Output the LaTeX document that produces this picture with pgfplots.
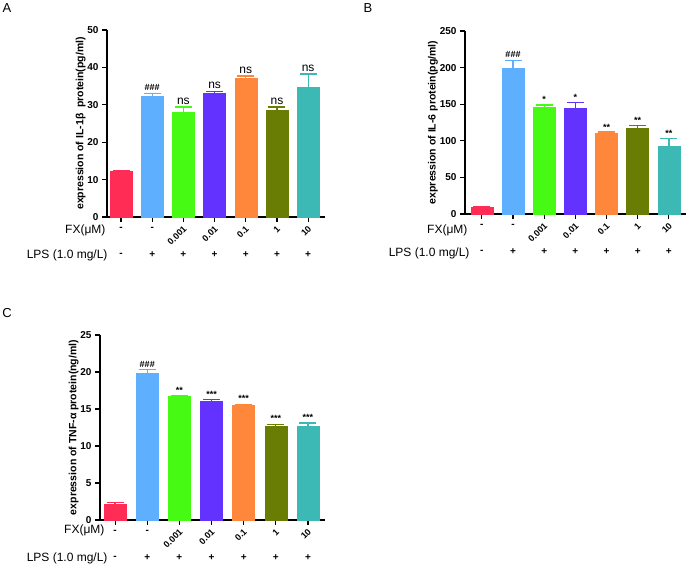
\documentclass[border=0pt]{standalone}
\usepackage{graphicx}
\usepackage{pgfplots}
\pgfplotsset{compat=1.18}
\usepackage{fontspec}
\setmainfont{Liberation Sans}
\definecolor{cR}{RGB}{255,45,85}
\definecolor{cB}{RGB}{95,175,255}
\definecolor{cG}{RGB}{70,250,20}
\definecolor{cP}{RGB}{100,50,255}
\definecolor{cO}{RGB}{255,135,60}
\definecolor{cL}{RGB}{105,125,5}
\definecolor{cT}{RGB}{60,185,180}
\newcommand{\fs}[1]{\fontsize{#1}{#1}\selectfont}
\pgfplotsset{
  panel/.style={scale only axis, anchor=south west,
    axis x line=bottom, axis y line=left,
    axis line style={-, line width=1.2pt},
    ymin=0, xtick={0,...,6}, xticklabels={},
    tick align=outside, major tick length=5pt,
    tick style={line width=1.2pt, black},
    ybar, bar width=22pt, clip=false,
    y tick label style={font=\bfseries\fs{10}},
    ylabel style={font=\bfseries\fs{10.5}}, ylabel shift=-5pt,
    /pgf/number format/assume math mode=true},
  barc/.style={fill=#1, draw=#1, bar shift=0pt,
    error bars/.cd, y dir=plus, y explicit,
    error bar style={color=#1, line width=1.3pt},
    error mark options={color=#1, line width=1.3pt, mark size=8.5pt, rotate=90}},
}
\newcommand{\rows}[1]{%
  \coordinate (#1-0) at (axis cs:0,0);
  \coordinate (#1-1) at (axis cs:1,0);
  \coordinate (#1-2) at (axis cs:2,0);
  \coordinate (#1-3) at (axis cs:3,0);
  \coordinate (#1-4) at (axis cs:4,0);
  \coordinate (#1-5) at (axis cs:5,0);
  \coordinate (#1-6) at (axis cs:6,0);
}
\newcommand{\rl}[1]{\rotatebox{45}{\bfseries\fs{9}#1}}
\newcommand{\rot}[1]{%
  \node[font=\bfseries\fs{10}] at ([yshift=-12pt]#1-0) {-};
  \node[font=\bfseries\fs{10}] at ([yshift=-12pt]#1-1) {-};
  \node[anchor=north east, inner sep=0pt] at ([xshift=4pt,yshift=-8pt]#1-2) {\rl{0.001}};
  \node[anchor=north east, inner sep=0pt] at ([xshift=4pt,yshift=-8pt]#1-3) {\rl{0.01}};
  \node[anchor=north east, inner sep=0pt] at ([xshift=4pt,yshift=-8pt]#1-4) {\rl{0.1}};
  \node[anchor=north east, inner sep=0pt] at ([xshift=4pt,yshift=-8pt]#1-5) {\rl{1}};
  \node[anchor=north east, inner sep=0pt] at ([xshift=4pt,yshift=-8pt]#1-6) {\rl{10}};
  \node[font=\bfseries\fs{10}] at ([yshift=-38pt]#1-0) {-};
  \node[font=\bfseries\fs{10}] at ([yshift=-38pt]#1-1) {+};
  \node[font=\bfseries\fs{10}] at ([yshift=-38pt]#1-2) {+};
  \node[font=\bfseries\fs{10}] at ([yshift=-38pt]#1-3) {+};
  \node[font=\bfseries\fs{10}] at ([yshift=-38pt]#1-4) {+};
  \node[font=\bfseries\fs{10}] at ([yshift=-38pt]#1-5) {+};
  \node[font=\bfseries\fs{10}] at ([yshift=-38pt]#1-6) {+};
}
\begin{document}
\begin{tikzpicture}[x=1pt,y=1pt]
\useasboundingbox (0pt,0pt) rectangle (689pt,568pt);
% ---------- A ----------
\begin{axis}[panel, at={(107pt,351pt)}, width=218pt, height=187pt,
  xmin=-0.45, xmax=6.54, ymax=50, ytick={0,10,...,50},
  ylabel={expression of IL-1β\ \ protein(pg/ml)}]
\addplot[barc=cR] coordinates {(0,12.2) +- (0,0.3)};
\addplot[barc=cB] coordinates {(1,32.3) +- (0,0.8)};
\addplot[barc=cG] coordinates {(2,27.9) +- (0,1.5)};
\addplot[barc=cP] coordinates {(3,33.0) +- (0,0.6)};
\addplot[barc=cO] coordinates {(4,37.2) +- (0,0.5)};
\addplot[barc=cL] coordinates {(5,28.6) +- (0,0.8)};
\addplot[barc=cT] coordinates {(6,34.8) +- (0,3.4)};
\node[anchor=south, font=\bfseries\fs{9}, inner sep=1pt] at (axis cs:1,33.4) {\#\#\#};
\node[anchor=south, font=\fs{12}, inner sep=1pt] at (axis cs:2,29.8) {ns};
\node[anchor=south, font=\fs{12}, inner sep=1pt] at (axis cs:3,34.0) {ns};
\node[anchor=south, font=\fs{12}, inner sep=1pt] at (axis cs:4,38.1) {ns};
\node[anchor=south, font=\fs{12}, inner sep=1pt] at (axis cs:5,29.8) {ns};
\node[anchor=south, font=\fs{12}, inner sep=1pt] at (axis cs:6,38.6) {ns};
\rows{a}
\end{axis}
% ---------- B ----------
\begin{axis}[panel, at={(465pt,354pt)}, width=221pt, height=183pt,
  xmin=-0.54, xmax=6.55, ymax=250, ytick={0,50,...,250},
  ylabel={expression of IL-6 protein(pg/ml)}]
\addplot[barc=cR] coordinates {(0,9) +- (0,1)};
\addplot[barc=cB] coordinates {(1,199) +- (0,11)};
\addplot[barc=cG] coordinates {(2,146) +- (0,3)};
\addplot[barc=cP] coordinates {(3,145) +- (0,7)};
\addplot[barc=cO] coordinates {(4,110) +- (0,2)};
\addplot[barc=cL] coordinates {(5,117) +- (0,4)};
\addplot[barc=cT] coordinates {(6,93) +- (0,10)};
\node[anchor=south, font=\bfseries\fs{9}, inner sep=1pt] at (axis cs:1,212) {\#\#\#};
\node[anchor=south, font=\bfseries\fs{9}, inner sep=1pt] at (axis cs:2,150) {*};
\node[anchor=south, font=\bfseries\fs{9}, inner sep=1pt] at (axis cs:3,153) {*};
\node[anchor=south, font=\bfseries\fs{9}, inner sep=1pt] at (axis cs:4,113) {**};
\node[anchor=south, font=\bfseries\fs{9}, inner sep=1pt] at (axis cs:5,122) {**};
\node[anchor=south, font=\bfseries\fs{9}, inner sep=1pt] at (axis cs:6,104) {**};
\rows{b}
\end{axis}
% ---------- C ----------
\begin{axis}[panel, at={(100pt,48pt)}, width=225pt, height=185pt,
  xmin=-0.47, xmax=6.53, ymax=25, ytick={0,5,...,25},
  ylabel={expression of TNF-α protein(ng/ml)}]
\addplot[barc=cR] coordinates {(0,2.1) +- (0,0.3)};
\addplot[barc=cB] coordinates {(1,19.9) +- (0,0.4)};
\addplot[barc=cG] coordinates {(2,16.7) +- (0,0.05)};
\addplot[barc=cP] coordinates {(3,16.1) +- (0,0.15)};
\addplot[barc=cO] coordinates {(4,15.5) +- (0,0.1)};
\addplot[barc=cL] coordinates {(5,12.7) +- (0,0.2)};
\addplot[barc=cT] coordinates {(6,12.7) +- (0,0.4)};
\node[anchor=south, font=\bfseries\fs{9}, inner sep=1pt] at (axis cs:1,20.5) {\#\#\#};
\node[anchor=south, font=\bfseries\fs{9}, inner sep=1pt] at (axis cs:2,16.9) {**};
\node[anchor=south, font=\bfseries\fs{9}, inner sep=1pt] at (axis cs:3,16.4) {***};
\node[anchor=south, font=\bfseries\fs{9}, inner sep=1pt] at (axis cs:4,15.8) {***};
\node[anchor=south, font=\bfseries\fs{9}, inner sep=1pt] at (axis cs:5,13.1) {***};
\node[anchor=south, font=\bfseries\fs{9}, inner sep=1pt] at (axis cs:6,13.3) {***};
\rows{c}
\end{axis}
\rot{a}
\rot{b}
\rot{c}
% ---------- outside texts ----------
\node[font=\fs{13}] at (7pt,560pt) {A};
\node[font=\fs{13}] at (368pt,560pt) {B};
\node[font=\fs{13}] at (7pt,255pt) {C};
\node[anchor=east, font=\fs{12}] at (109pt,338pt) {FX(μM)};
\node[anchor=east, font=\fs{12}] at (111pt,313pt) {LPS (1.0 mg/L)};
\node[anchor=east, font=\fs{12}] at (471pt,338pt) {FX(μM)};
\node[anchor=east, font=\fs{12}] at (473pt,315pt) {LPS (1.0 mg/L)};
\node[anchor=east, font=\fs{12}] at (108pt,38pt) {FX(μM)};
\node[anchor=east, font=\fs{12}] at (111pt,10pt) {LPS (1.0 mg/L)};
\end{tikzpicture}
\end{document}
